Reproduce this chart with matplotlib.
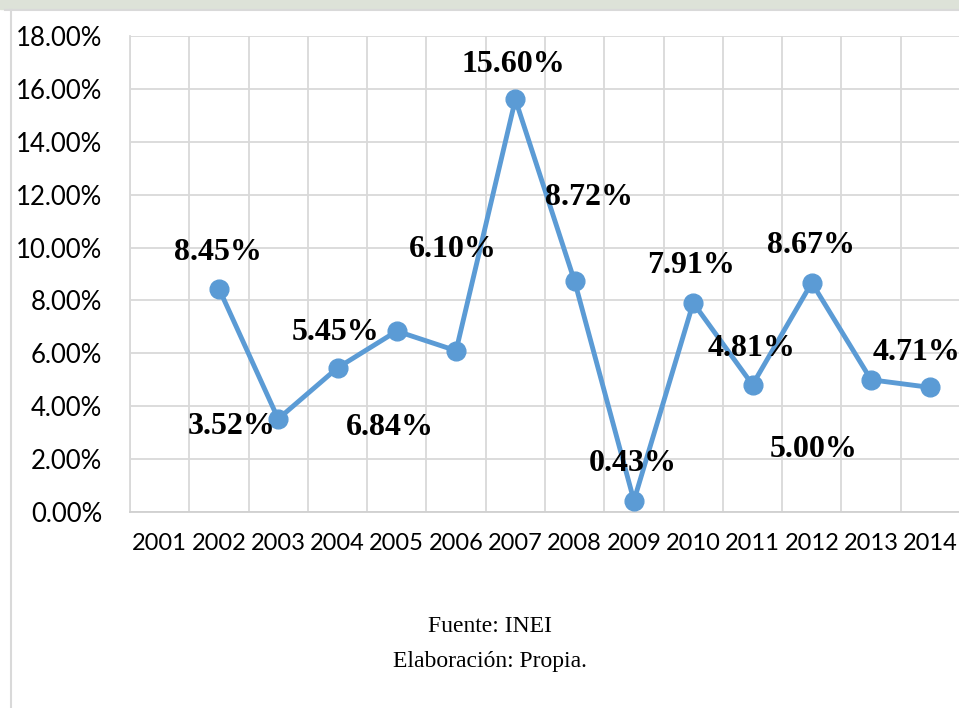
import numpy as np
import matplotlib.pyplot as plt
from matplotlib.patches import Rectangle
from matplotlib.lines import Line2D

##Data
years = ['2001', '2002', '2003', '2004', '2005', '2006', '2007',
         '2008', '2009', '2010', '2011', '2012', '2013', '2014']
rate = [np.nan, 8.45, 3.52, 5.45, 6.84, 6.10, 15.60,
        8.72, 0.43, 7.91, 4.81, 8.67, 5.00, 4.71]
labels = ['8.45%', '3.52%', '5.45%', '6.84%', '6.10%', '15.60%',
          '8.72%', '0.43%', '7.91%', '4.81%', '8.67%', '5.00%', '4.71%']
##label offsets (category units, percent units) as Excel left them
lab_dx = [-0.02, -0.78, -0.03, -0.12, -0.05, -0.03, 0.25, -0.02, -0.03, -0.02, -0.02, -0.97, -0.24]
lab_dy = [1.38, -0.27, 1.32, -3.66, 3.81, 1.34, 3.16, 1.42, 1.40, 1.36, 1.39, -2.65, 1.34]

yticks = [0, 2, 4, 6, 8, 10, 12, 14, 16, 18]

W, H = 959, 708
fig = plt.figure(figsize=(W / 100, H / 100), dpi=100)

##faint watermark strip at the top and the chart frame
fig.patches.append(Rectangle((0, 1 - 9 / H), 1, 9 / H, transform=fig.transFigure,
                             color='#DDE2D8', zorder=0))
fig.add_artist(Line2D([5 / W, 1], [1 - 10 / H, 1 - 10 / H], color='#D9D9D9', lw=1.5))
fig.add_artist(Line2D([11 / W, 11 / W], [0, 1 - 10 / H], color='#D9D9D9', lw=1.5))

ax = fig.add_axes([130 / W, 1 - 512 / H, 830 / W, 476 / H])
x = np.arange(len(years))
ax.plot(x, rate, color='#5B9BD5', lw=3.5, marker='o', markersize=13.5, zorder=3, clip_on=False)

ax.set_xlim(-0.5, len(years) - 0.5)
ax.set_ylim(0, 18)
ax.set_yticks(yticks)
ax.set_yticklabels(['%.2f%%' % v for v in yticks], family='Lato', fontsize=18.5)
ax.set_xticks(x)
ax.set_xticklabels(years, family='Lato', fontsize=17)
ax.set_xticks(np.arange(len(years) + 1) - 0.5, minor=True)
ax.tick_params(axis='both', which='both', length=0)
ax.tick_params(axis='y', pad=20)
ax.tick_params(axis='x', pad=15)
ax.grid(True, which='minor', axis='x', color='#D9D9D9', lw=1.3)
ax.grid(True, which='major', axis='y', color='#D9D9D9', lw=1.3)
ax.set_axisbelow(True)
for s in ['top', 'right']:
    ax.spines[s].set_visible(False)
ax.spines['left'].set_color('#D9D9D9')
ax.spines['bottom'].set_color('#D0D0D0')
ax.spines['left'].set_linewidth(1.3)
ax.spines['bottom'].set_linewidth(1.3)

for i in range(len(labels)):
    ax.text(x[i + 1] + lab_dx[i], rate[i + 1] + lab_dy[i], labels[i],
            family='Liberation Serif', fontweight='bold', fontsize=23,
            ha='center', va='center', zorder=4, clip_on=False)

fig.text(490 / W, 1 - 627 / H, 'Fuente: INEI', family='Liberation Serif',
         fontsize=17, ha='center', va='center')
fig.text(490 / W, 1 - 662 / H, 'Elaboración: Propia.', family='Liberation Serif',
         fontsize=17, ha='center', va='center')

fig.savefig('out.png', dpi=100)
